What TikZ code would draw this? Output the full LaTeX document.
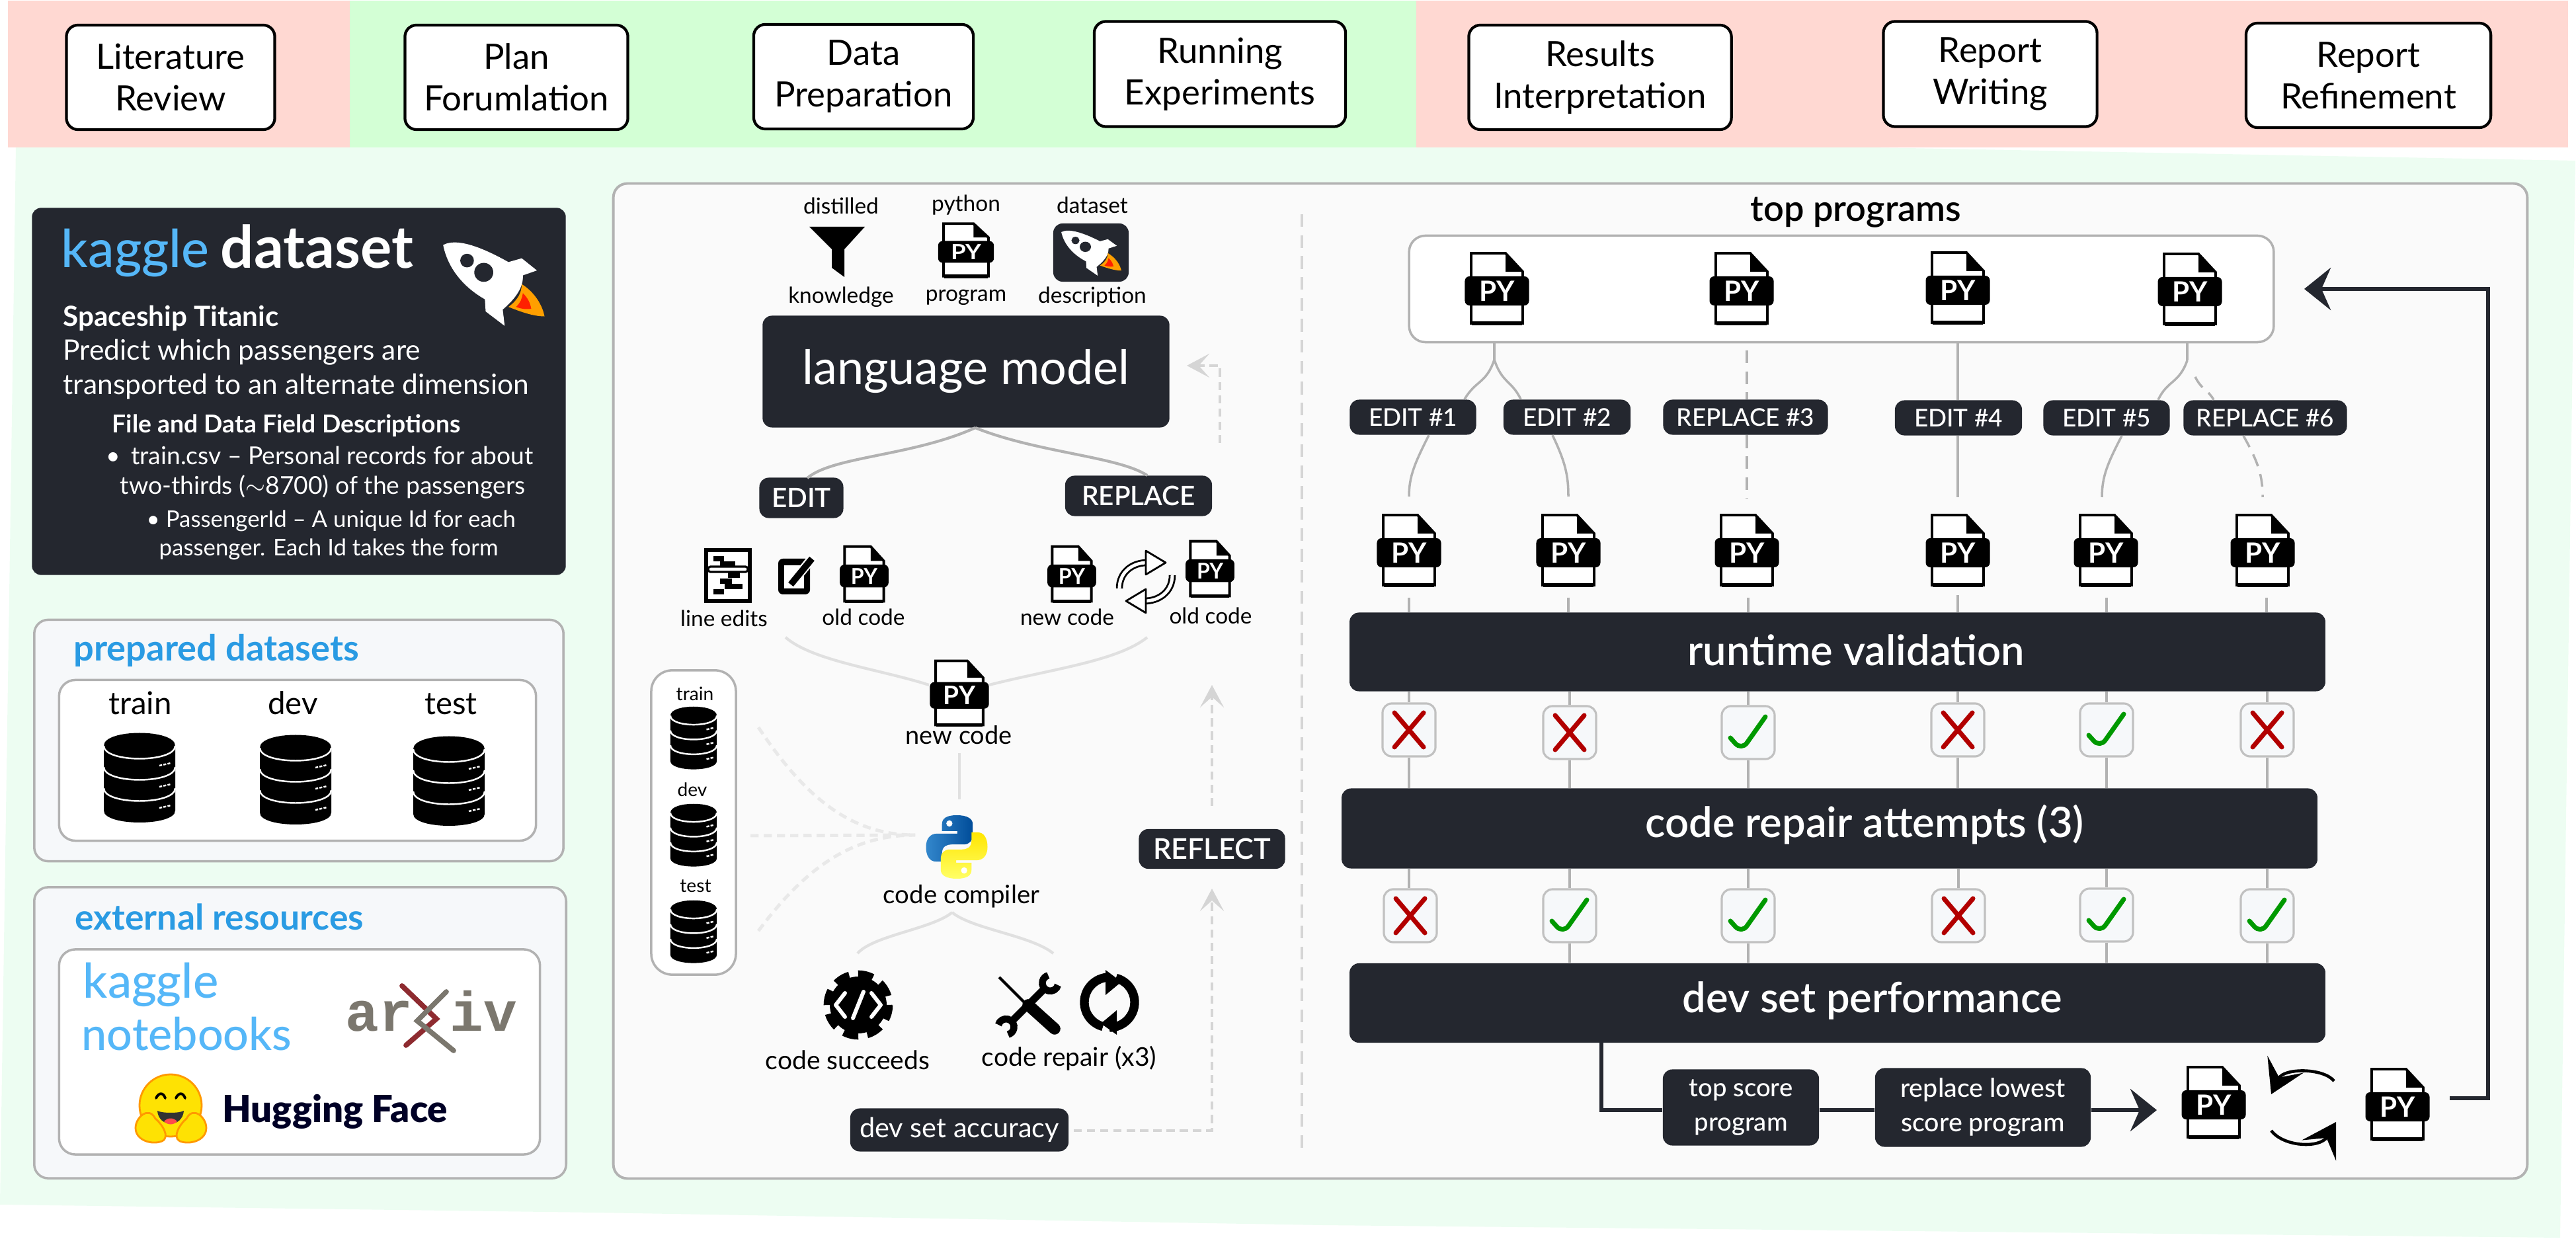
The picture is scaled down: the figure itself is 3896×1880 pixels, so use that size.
\documentclass[tikz,border=0pt]{standalone}
\usepackage{fontspec}
\setmainfont{Lato}
\newfontfamily\medfont{Lato Medium}
\newfontfamily\semifont{Lato Semibold}
\newfontfamily\heavyfont{Lato Black}
\newfontfamily\slabfont{Liberation Mono}
\usetikzlibrary{arrows.meta}
\definecolor{boxdark}{HTML}{24272F}
\definecolor{bandred}{HTML}{FFD8D2}
\definecolor{bandgreen}{HTML}{D3FFD5}
\definecolor{panelgreen}{HTML}{EDFDF2}
\definecolor{edgegray}{HTML}{B2B2B2}
\definecolor{softgray}{HTML}{E0E0E0}
\definecolor{paleblue}{HTML}{F6F8FA}
\definecolor{skyblue}{HTML}{55B7F8}
\definecolor{titleblue}{HTML}{2A9BE3}
\definecolor{arxgray}{HTML}{7B776E}
\definecolor{arxred}{HTML}{8E2B30}
\newcommand{\fs}[2]{\fontsize{#1}{#2}\selectfont}

\tikzset{
  pics/pyfile/.style = {code = {
    \draw[line width=1.1pt,fill=white] (-39,-53) -- (13,-53) -- (39,-25) -- (39,53) -- (-39,53) -- cycle;
    \fill (13,-53) -- (39,-25) -- (13,-25) -- cycle;
    \draw[line width=1.6pt] (-38,53) -- (38,53);
    \node[transform shape,fill=black,rounded corners=2pt,inner sep=0,minimum width=.97cm,minimum height=.44cm,
      text=white,font=\bfseries\fs{12}{12}] (-b) at (0,4) {PY};
    \coordinate (-n) at (0,-53);
    \coordinate (-s) at (0,53);
  }},
  pics/dbstack/.style = {code = {
    \fill (-54,-48) -- (-54,50) .. controls (-54,74) and (54,74) .. (54,50) -- (54,-48) .. controls (54,-74) and (-54,-74) .. (-54,-48) -- cycle;
    \draw[white,line width=.7pt] (-54,-48) .. controls (-54,-22) and (54,-22) .. (54,-48);
    \draw[white,line width=.7pt] (-54,-16) .. controls (-54,10) and (54,10) .. (54,-16);
    \draw[white,line width=.7pt] (-54,16) .. controls (-54,42) and (54,42) .. (54,16);
    \draw[white,line width=.7pt,dash pattern=on 1.2pt off .6pt] (30,-18) -- (48,-22);
    \draw[white,line width=.7pt,dash pattern=on 1.2pt off .6pt] (30,14) -- (48,10);
    \draw[white,line width=.7pt,dash pattern=on 1.2pt off .6pt] (30,46) -- (48,42);
  }},
  pics/rocket/.style = {code = {
    \fill[white] (-132,-100) .. controls (-100,-118) and (-40,-100) .. (40,-55) -- (75,-65) -- (115,-33)
      -- (78,-20) .. controls (80,10) and (60,40) .. (25,70) -- (30,113) -- (-20,75) -- (-22,43)
      .. controls (-80,10) and (-120,-40) .. (-132,-100) -- cycle;
    \fill[boxdark] (-69,-59) circle (18);
    \fill[boxdark] (-25,-28) circle (25);
    \fill[orange!75!yellow] (75,3) .. controls (110,25) and (130,60) .. (135,88) .. controls (105,88) and (70,75) .. (40,63) .. controls (65,45) and (75,25) .. (75,3) -- cycle;
    \fill[red!75!orange] (78,27) .. controls (92,40) and (98,55) .. (100,68) .. controls (85,70) and (72,68) .. (60,63) .. controls (72,52) and (76,40) .. (78,27) -- cycle;
  }},
  pics/pylogo/.style = {code = {
    \path[left color=blue!45!cyan!60!gray,right color=blue!50!cyan!60!black] (0,-50) .. controls (-18,-50) and (-24,-44) .. (-24,-36) -- (-24,-25) -- (1,-25) -- (1,-21) -- (-32,-21)
      .. controls (-44,-21) and (-50,-12) .. (-50,0) .. controls (-50,14) and (-44,23) .. (-34,23) -- (-24,23) -- (-24,10)
      .. controls (-24,-1) and (-16,-4) .. (-8,-4) -- (12,-4) .. controls (20,-4) and (26,-10) .. (26,-17) -- (26,-36) .. controls (26,-44) and (18,-50) .. (0,-50) -- cycle;
    \path[top color=yellow!80!orange,bottom color=yellow!60] (0,50) .. controls (18,50) and (24,44) .. (24,36) -- (24,25) -- (-1,25) -- (-1,21) -- (32,21)
      .. controls (44,21) and (50,12) .. (50,0) .. controls (50,-14) and (44,-23) .. (34,-23) -- (24,-23) -- (24,-10)
      .. controls (24,1) and (16,4) .. (8,4) -- (-12,4) .. controls (-20,4) and (-26,10) .. (-26,17) -- (-26,36) .. controls (-26,44) and (-18,50) .. (0,50) -- cycle;
    \fill[white] (-12,-37) circle (5);
    \fill[white] (12,37) circle (5);
  }},
  pics/swaphollow/.style = {code = {
    \draw[double,double distance=1.4pt,line width=.8pt] (-40,10) .. controls (-40,-15) and (-20,-29) .. (2,-29);
    \draw[double,double distance=1.4pt,line width=.8pt] (40,-10) .. controls (40,15) and (20,29) .. (-2,29);
    \filldraw[fill=white,line width=.8pt,line join=round] (0,-47) -- (30,-29) -- (0,-11) -- cycle;
    \filldraw[fill=white,line width=.8pt,line join=round] (0,47) -- (-30,29) -- (0,11) -- cycle;
  }},
  pics/refreshring/.style = {code = {
    \draw[line width=3.8pt] (0,-38) arc[start angle=270,end angle=105,radius=38];
    \draw[line width=3.8pt] (0,38) arc[start angle=90,end angle=-75,radius=38];
    \fill (-6,-49) -- (18,-31) -- (-6,-11) -- cycle;
    \fill (11,12) -- (-13,32) -- (11,49) -- cycle;
  }},
  pics/swapcurves/.style = {code = {
    \draw[line width=1.3pt,-{Stealth[length=5mm,width=6mm,inset=2.2mm]}] (46,-42) .. controls (30,-62) and (-30,-62) .. (-49,-22);
    \draw[line width=1.3pt,-{Stealth[length=5mm,width=6mm,inset=2.2mm]}] (-49,33) .. controls (-30,58) and (25,60) .. (49,20);
  }},
}

\begin{document}
\begin{tikzpicture}[x=.01cm,y=-.01cm,
    phase/.style   = {draw,line width=1.2pt,fill=white,rounded corners=5pt,inner sep=0,align=center,font=\fs{15}{17.9}},
    darkbox/.style = {fill=boxdark,rounded corners=4pt,inner sep=0,text=white,align=center},
    slab/.style    = {darkbox,anchor=base,font=\semifont\fs{18}{20}},
    tag/.style     = {darkbox,minimum height=.53cm,font=\medfont\fs{10.5}{12}},
    panel/.style   = {draw=edgegray,line width=1pt,fill=paleblue,rounded corners=6pt},
    inset/.style   = {draw=edgegray,line width=1pt,fill=white,rounded corners=7pt},
    lbl/.style     = {anchor=base,inner sep=0},
    lft/.style     = {anchor=base west,inner sep=0},
    chkbox/.style  = {draw=edgegray!80,line width=.9pt,fill=paleblue,rounded corners=4pt,minimum width=.8cm,minimum height=.8cm},
    failbox/.style = {chkbox,path picture={\draw[red!70!black,line width=2pt,line cap=round,shift={(path picture bounding box.center)}] (-22,-26) -- (22,26) (22,-26) -- (-22,26);}},
    passbox/.style = {chkbox,path picture={\draw[green!60!black,line width=2pt,line cap=round,line join=round,shift={(path picture bounding box.center)}] (-27,8) -- (-10,27) -- (26,-24);}},
    link/.style    = {draw=edgegray,line width=1pt},
    dlink/.style   = {link,dash pattern=on 5.5pt off 3.5pt},
    soft/.style    = {draw=softgray,line width=1.2pt},
    dsoft/.style   = {draw=softgray!95!black,line width=1.2pt,dash pattern=on 3.5pt off 2.2pt},
    dpale/.style   = {draw=softgray!70!white,line width=1.4pt,dash pattern=on 3.5pt off 2.2pt},
    softarrow/.style = {-{Stealth[length=3.4mm,width=3.6mm,inset=1.6mm]}},
    bold/.style    = {draw=boxdark,line width=1.9pt},
    boldarrow/.style = {-{Stealth[length=4mm,width=6.4mm,inset=1.4mm]}}]

  \useasboundingbox (0,0) rectangle (3896,1880);

  % background bands
  \fill[panelgreen] (24,223) -- (2830,223) -- (3895,243) -- (3872,1872) -- (2000,1853) -- (900,1834) -- (0,1822) -- (14,900) -- cycle;
  \fill[bandred] (12,1) rectangle (529,223);
  \fill[bandgreen] (529,1) rectangle (2142,223);
  \fill[bandred] (2142,1) rectangle (3884,223);

  % research phases
  \draw (258,117) node[phase,minimum width=3.15cm,minimum height=1.58cm] (lit) {Literature\\Review};
  \draw (781,117) node[phase,minimum width=3.37cm,minimum height=1.58cm] (plan) {Plan\\Forumlation};
  \draw (1306,116) node[phase,minimum width=3.32cm,minimum height=1.58cm] (prep) {Data\\Preparation};
  \draw (1845,112) node[phase,minimum width=3.8cm,minimum height=1.59cm] (runs) {Running\\Experiments};
  \draw (2420,117) node[phase,minimum width=3.97cm,minimum height=1.58cm] (interp) {Results\\Interpretation};
  \draw (3010,112) node[phase,minimum width=3.23cm,minimum height=1.59cm] (write) {Report\\Writing};
  \draw (3582,114) node[phase,minimum width=3.7cm,minimum height=1.58cm] (refine) {Report\\Refinement};

  % kaggle dataset card
  \draw (452,592) node[darkbox,minimum width=8.07cm,minimum height=5.55cm] (kag) {};
  \draw (92,405) node[lft,text=skyblue,font=\medfont\fs{22.5}{21}] (kagname) {kaggle};
  \draw (333,406) node[lft,text=white,font=\bfseries\fs{25.2}{23}] (kagset) {dataset};
  \draw (746,428) pic[scale=.574] (kagrocket) {rocket};
  \draw (95,494) node[lft,text=white,font=\bfseries\fs{12}{12}] (ttl) {Spaceship Titanic};
  \draw (95,545) node[lft,text=white,font=\fs{12.1}{14.7}] (goal) {Predict which passengers are};
  \draw (95,597) node[lft,text=white,font=\fs{12.1}{14.7}] (goalb) {transported to an alternate dimension};
  \draw (169,655) node[lft,text=white,font=\bfseries\fs{10.6}{12}] (fld) {File and Data Field Descriptions};
  \draw (160,703) node[lft,text=white,font=\fs{10.6}{12}] (fa) {• \,train.csv – Personal records for about};
  \draw (181,748) node[lft,text=white,font=\fs{10.6}{12}] (fb) {two-thirds ($\sim$8700) of the passengers};
  \draw (221,798) node[lft,text=white,font=\fs{9.9}{12}] (fc) {• PassengerId – A unique Id for each};
  \draw (240,841) node[lft,text=white,font=\fs{9.9}{12}] (fd) {passenger. Each Id takes the form};

  % prepared datasets
  \draw (452,1120) node[panel,minimum width=8cm,minimum height=3.65cm] (prepd) {};
  \draw (450,1150) node[inset,minimum width=7.21cm,minimum height=2.43cm] (prepin) {};
  \draw (111,1000) node[lft,text=titleblue,font=\bfseries\fs{15.4}{14.3}] (prepttl) {prepared datasets};
  \draw (212,1081) node[lbl,font=\fs{13.5}{12}] (ltrain) {train};
  \draw (443,1081) node[lbl,font=\fs{13.5}{12}] (ldev) {dev};
  \draw (682,1081) node[lbl,font=\fs{13.5}{12}] (ltest) {test};
  \draw (211,1176) pic (dbtrain) {dbstack};
  \draw (447,1179) pic (dbdev) {dbstack};
  \draw (679,1181) pic (dbtest) {dbstack};

  % external resources
  \draw (454,1562) node[panel,minimum width=8.04cm,minimum height=4.4cm] (extr) {};
  \draw (453,1591) node[inset,minimum width=7.27cm,minimum height=3.1cm] (extin) {};
  \draw (113,1407) node[lft,text=titleblue,font=\bfseries\fs{15.2}{14}] (extttl) {external resources};
  \draw (125,1509) node[lft,text=skyblue,font=\medfont\fs{20.6}{20}] (kagb) {kaggle};
  \draw (123,1589) node[lft,text=skyblue,font=\medfont\fs{19.4}{20}] (kagc) {notebooks};
  \draw (522,1559) node[lft,text=arxgray,font=\slabfont\bfseries\fs{24}{24}] (arxa) {ar};
  \draw (680,1559) node[lft,text=arxgray,font=\slabfont\bfseries\fs{24}{24}] (arxb) {iv};
  \draw[arxred,line width=2.2pt,line cap=round] (608,1491) -- (660,1541) -- (614,1581);
  \draw[arxgray,line width=2.2pt,line cap=round] (675,1500) -- (631,1544) -- (686,1589);
  % hugging face
  \filldraw[fill=yellow!85!orange,draw=orange!80!yellow,line width=.8pt] (258,1672) circle (47);
  \draw[line width=1.1pt,line cap=round] (236,1661) .. controls (240,1652) and (247,1652) .. (250,1661);
  \draw[line width=1.1pt,line cap=round] (266,1661) .. controls (270,1652) and (277,1652) .. (280,1661);
  \fill[black!80] (238,1680) .. controls (245,1684) and (271,1684) .. (278,1680) .. controls (276,1706) and (240,1706) .. (238,1680) -- cycle;
  \fill[red!70!white] (248,1696) .. controls (254,1690) and (262,1690) .. (268,1696) .. controls (262,1702) and (254,1702) .. (248,1696) -- cycle;
  \filldraw[fill=yellow!85!orange,draw=orange!80!yellow,line width=.8pt] (205,1706) .. controls (205,1690) and (225,1672) .. (235,1692) .. controls (245,1700) and (258,1720) .. (245,1726) .. controls (230,1732) and (205,1725) .. (205,1706) -- cycle;
  \filldraw[fill=yellow!85!orange,draw=orange!80!yellow,line width=.8pt] (312,1706) .. controls (312,1690) and (292,1672) .. (282,1692) .. controls (272,1700) and (260,1720) .. (272,1726) .. controls (287,1732) and (312,1725) .. (312,1706) -- cycle;
  \draw (336,1697) node[lft,text=black!85!blue,font=\heavyfont\fs{16}{16}] (hug) {Hugging Face};

  % main panel
  \draw (2375,1030) node[draw=edgegray,line width=1.1pt,fill=black!2,rounded corners=6pt,minimum width=28.93cm,minimum height=15.04cm] (mainp) {};
  \coordinate (divtop) at (1969,324);
  \coordinate (divbot) at (1969,1744);
  \draw[dsoft,dash pattern=on 5.5pt off 3.5pt] (divtop) -- (divbot);

  % prompt inputs
  \draw (1272,324) node[lbl,font=\fs{9.5}{10}] (ldist) {distilled};
  \draw (1461,320) node[lbl,font=\fs{9.5}{10}] (lpyth) {python};
  \draw (1652,323) node[lbl,font=\fs{9.5}{10}] (ldata) {dataset};
  \fill (1224,343) -- (1308,343) -- (1277,377) -- (1277,419) -- (1258,405) -- (1258,377) -- cycle;
  \draw (1461,378) pic[xscale=.87,yscale=.75] (pyin) {pyfile};
  \draw (1650,382) node[darkbox,minimum width=1.14cm,minimum height=.88cm] (dtile) {};
  \draw (1650,382) pic[xscale=.34,yscale=.31] (tilerocket) {rocket};
  \draw (1272,459) node[lbl,font=\fs{9.5}{10}] (lknow) {knowledge};
  \draw (1461,456) node[lbl,font=\fs{9.5}{10}] (lprog) {program};
  \draw (1652,459) node[lbl,font=\fs{9.5}{10}] (ldesc) {description};
  \draw (1461,562) node[darkbox,minimum width=6.15cm,minimum height=1.69cm,font=\fs{20.5}{22}] (lm) {language model};

  % edit or replace
  \draw (1212,753) node[darkbox,minimum width=1.27cm,minimum height=.61cm,font=\semifont\fs{11.5}{12}] (edit) {EDIT};
  \draw (1722,750) node[darkbox,minimum width=2.22cm,minimum height=.61cm,font=\semifont\fs{11.5}{12}] (repl) {REPLACE};
  \coordinate (lmtip) at (1475,647);
  \coordinate (edtop) at (1221,723);
  \coordinate (rptop) at (1735,719);
  \draw[link,line width=1.2pt] (lmtip) .. controls (1380,690) and (1260,690) .. (edtop);
  \draw[link,line width=1.2pt] (lmtip) .. controls (1570,685) and (1690,690) .. (rptop);
  \coordinate (loopa) at (1845,670);
  \coordinate (loopb) at (1795,553);
  \draw[dsoft,softarrow] (loopa) |- (loopb);

  \draw[line width=1.5pt,fill=white] (1068,832) rectangle (1134,909);
  \draw[line width=2pt] (1079,845) -- (1095,845) (1089,853) -- (1112,853) (1101,870) -- (1119,870) (1089,879) -- (1107,879) (1096,887) -- (1123,887) (1079,895) -- (1095,895);
  \draw[line width=.9pt,fill=white,rounded corners=1pt] (1071,857) rectangle (1131,865);
  \fill[rounded corners=2pt] (1177,845) rectangle (1225,899);
  \fill[white] (1186,855) rectangle (1216,890);
  \draw[white,line width=4pt] (1196,884) -- (1231,841);
  \draw[line width=2.8pt] (1196,884) -- (1228,845);
  \draw (1307,868) pic[xscale=.76,yscale=.78] (pyold) {pyfile};
  \draw (1095,948) node[lbl,font=\fs{9.5}{10}] (llin) {line edits};
  \draw (1306,946) node[lbl,font=\fs{9.5}{10}] (lold) {old code};
  \draw (1621,868) pic[xscale=.76,yscale=.78] (pynew) {pyfile};
  \draw (1733,880) pic (swapa) {swaphollow};
  \draw (1830,860) pic[xscale=.76,yscale=.78] (pyoldb) {pyfile};
  \draw (1614,946) node[lbl,font=\fs{9.5}{10}] (lnewa) {new code};
  \draw (1831,944) node[lbl,font=\fs{9.5}{10}] (loldb) {old code};

  % new code and compiler
  \draw (1451,1048) pic[xscale=.92,yscale=.915] (pymain) {pyfile};
  \draw (1450,1126) node[lbl,font=\fs{10.8}{11}] (lnewb) {new code};
  \coordinate (mergea) at (1188,964);
  \coordinate (mergeb) at (1735,964);
  \coordinate (mainl) at (1405,1036);
  \coordinate (mainr) at (1496,1036);
  \draw[soft] (mergea) .. controls (1230,1000) and (1330,1012) .. (mainl);
  \draw[soft] (mergeb) .. controls (1690,1000) and (1590,1012) .. (mainr);
  \coordinate (compa) at (1451,1139);
  \coordinate (compb) at (1451,1209);
  \draw[soft] (compa) -- (compb);
  \draw (1447,1281) pic[xscale=.93,yscale=.96] (pycomp) {pylogo};
  \draw (1454,1367) node[lbl,font=\fs{10.9}{11}] (lcomp) {code compiler};

  % splits
  \draw (1049,1244) node[inset,minimum width=1.28cm,minimum height=4.6cm,rounded corners=9pt] (splits) {};
  \draw (1051,1060) node[lbl,font=\fs{8}{8}] (stra) {train};
  \draw (1047,1205) node[lbl,font=\fs{8}{8}] (sdev) {dev};
  \draw (1052,1350) node[lbl,font=\fs{8}{8}] (stes) {test};
  \draw (1049,1116) pic[xscale=.65,yscale=.7] (sdba) {dbstack};
  \draw (1049,1263) pic[xscale=.65,yscale=.7] (sdbb) {dbstack};
  \draw (1049,1409) pic[xscale=.65,yscale=.7] (sdbc) {dbstack};
  \coordinate (spa) at (1147,1100);
  \coordinate (spb) at (1135,1264);
  \coordinate (spc) at (1147,1408);
  \coordinate (spin) at (1384,1263);
  \draw[dpale] (spa) .. controls (1220,1210) and (1290,1263) .. (spin);
  \draw[dpale] (spb) -- (spin);
  \draw[dpale] (spc) .. controls (1220,1310) and (1290,1263) .. (spin);

  % compile result
  \coordinate (cmptip) at (1440,1380);
  \coordinate (okay) at (1297,1442);
  \coordinate (fixd) at (1593,1442);
  \draw[soft] (cmptip) .. controls (1410,1405) and (1320,1415) .. (okay);
  \draw[soft] (cmptip) .. controls (1470,1405) and (1560,1415) .. (fixd);
  % gear
  \fill (1298,1520) circle (43);
  \draw[line width=3.6pt,dash pattern=on 6.4pt off 3.87pt] (1298,1520) circle (46);
  \draw[white,line width=1.7pt,line cap=round,line join=round] (1278,1502) -- (1264,1520) -- (1278,1538);
  \draw[white,line width=1.7pt,line cap=round,line join=round] (1318,1502) -- (1332,1520) -- (1318,1538);
  \draw[white,line width=1.7pt,line cap=round] (1306,1500) -- (1290,1540);
  \draw (1282,1617) node[lbl,font=\fs{11.1}{11}] (lsuc) {code succeeds};
  % tools
  \draw[line width=1.2pt] (1511,1478) -- (1555,1522);
  \draw[line width=5pt,line cap=round] (1555,1520) -- (1595,1556);
  \draw[line width=3.2pt] (1530,1545) -- (1580,1495);
  \draw[line width=3pt] (1600,1490) arc[start angle=15,end angle=255,radius=12];
  \draw[line width=3pt] (1510,1550) arc[start angle=195,end angle=435,radius=12];
  % refresh
  \draw (1678,1516) pic (refr) {refreshring};
  \draw (1617,1612) node[lbl,font=\fs{11.1}{11}] (lrep) {code repair (x3)};

  % reflect loop
  \draw (1451,1709) node[darkbox,minimum width=3.3cm,minimum height=.65cm,font=\fs{11.8}{12}] (dacc) {dev set accuracy};
  \draw (1833,1284) node[darkbox,minimum width=2.21cm,minimum height=.6cm,font=\semifont\fs{12.3}{13}] (refl) {REFLECT};
  \coordinate (accend) at (1624,1710);
  \coordinate (reflin) at (1833,1344);
  \coordinate (reflout) at (1833,1219);
  \coordinate (reflup) at (1833,1036);
  \draw[dsoft,softarrow] (accend) -| (reflin);
  \draw[dsoft,softarrow] (reflout) -- (reflup);

  % population of programs
  \draw (2807,335) node[lbl,font=\semifont\fs{15.4}{14}] (ltop) {top programs};
  \draw (2785,437) node[inset,minimum width=13.07cm,minimum height=1.61cm] (topb) {};
  \draw (2264,436) pic (tp1) {pyfile};
  \draw (2634,436) pic (tp2) {pyfile};
  \draw (2961,435) pic (tp3) {pyfile};
  \draw (3312,437) pic (tp4) {pyfile};

  \draw (2137,631) node[tag,minimum width=1.91cm] (ed1) {EDIT \#1};
  \draw (2370,631) node[tag,minimum width=1.92cm] (ed2) {EDIT \#2};
  \draw (2640,631) node[tag,minimum width=2.49cm] (rp3) {REPLACE \#3};
  \draw (2962,632) node[tag,minimum width=1.92cm] (ed4) {EDIT \#4};
  \draw (3186,632) node[tag,minimum width=1.91cm] (ed5) {EDIT \#5};
  \draw (3426,632) node[tag,minimum width=2.47cm] (rp6) {REPLACE \#6};

  \draw (2131,832) pic (c1) {pyfile};
  \draw (2372,832) pic (c2) {pyfile};
  \draw (2642,832) pic (c3) {pyfile};
  \draw (2961,832) pic (c4) {pyfile};
  \draw (3185,832) pic (c5) {pyfile};
  \draw (3422,832) pic (c6) {pyfile};

  \coordinate (fka) at (2260,544);
  \coordinate (fkb) at (3308,545);
  \draw[link] (fka |- topb.south) -- (fka);
  \draw[link] (fka) .. controls (2248,580) and (2232,575) .. (ed1.north -| 2215,0);
  \draw[link] (fka) .. controls (2272,580) and (2286,575) .. (ed2.north -| 2300,0);
  \draw[dlink] (2642,530) -- (rp3.north -| 2642,0);
  \draw[link] (tp3-s |- topb.south) -- (tp3-s |- ed4.north);
  \draw[link] (fkb |- topb.south) -- (fkb);
  \draw[link] (fkb) .. controls (3296,580) and (3278,575) .. (ed5.north -| 3264,0);
  \draw[dlink] (3320,570) .. controls (3330,590) and (3340,590) .. (rp6.north -| 3348,0);

  \coordinate (ga) at (2131,751);
  \coordinate (gb) at (2372,751);
  \coordinate (gc) at (2642,754);
  \coordinate (gd) at (2961,752);
  \coordinate (ge) at (3179,752);
  \coordinate (gf) at (3422,752);
  \draw[link] (ed1.south -| 2161,0) .. controls (2140,700) and (2131,720) .. (ga);
  \draw[link] (ed2.south -| 2348,0) .. controls (2368,700) and (2372,720) .. (gb);
  \draw[dlink] (gc |- rp3.south) -- (gc);
  \draw[link] (gd |- ed4.south) -- (gd);
  \draw[link] (ed5.south -| 3209,0) .. controls (3188,700) and (3179,720) .. (ge);
  \draw[dlink] (rp6.south -| 3393,0) .. controls (3416,700) and (3422,720) .. (gf);

  % validation stages
  \draw (2779,986) node[darkbox,minimum width=14.75cm,minimum height=1.19cm] (rv) {};
  \draw (2767,1253) node[darkbox,minimum width=14.75cm,minimum height=1.21cm] (cr) {};
  \draw (2779,1517) node[darkbox,minimum width=14.75cm,minimum height=1.2cm] (dp) {};
  \draw (2807,1007) node[slab] (rvtext) {runtime validation};
  \draw (2820,1267) node[slab] (crtext) {code repair attempts (3)};
  \draw (2832,1531) node[slab] (dptext) {dev set performance};

  \draw (2131,1104) node[failbox] (a1) {};
  \draw (2374,1108) node[failbox] (a2) {};
  \draw (2644,1108) node[passbox] (a3) {};
  \draw (2961,1104) node[failbox] (a4) {};
  \draw (3186,1104) node[passbox] (a5) {};
  \draw (3429,1104) node[failbox] (a6) {};
  \draw (2133,1385) node[failbox] (b1) {};
  \draw (2374,1385) node[passbox] (b2) {};
  \draw (2644,1385) node[passbox] (b3) {};
  \draw (2962,1385) node[failbox] (b4) {};
  \draw (3186,1384) node[passbox] (b5) {};
  \draw (3429,1385) node[passbox] (b6) {};

  \coordinate (h1) at (2131,904);
  \coordinate (h2) at (2372,904);
  \coordinate (h3) at (2644,904);
  \coordinate (h4) at (2961,900);
  \coordinate (h5) at (3186,904);
  \coordinate (h6) at (3428,904);
  \draw[link] (h1) -- (h1 |- rv.north);
  \draw[link] (h2) -- (h2 |- rv.north);
  \draw[link] (h3) -- (h3 |- rv.north);
  \draw[link] (h4) -- (h4 |- rv.north);
  \draw[link] (h5) -- (h5 |- rv.north);
  \draw[link] (h6) -- (h6 |- rv.north);
  \draw[link] (a1 |- rv.south) -- (a1.north);
  \draw[link] (a2 |- rv.south) -- (a2.north);
  \draw[link] (a3 |- rv.south) -- (a3.north);
  \draw[link] (a4 |- rv.south) -- (a4.north);
  \draw[link] (a5 |- rv.south) -- (a5.north);
  \draw[link] (a6 |- rv.south) -- (a6.north);
  \draw[link] (a1.south) -- (a1 |- cr.north);
  \draw[link] (a2.south) -- (a2 |- cr.north);
  \draw[link] (a3.south) -- (a3 |- cr.north);
  \draw[link] (a4.south) -- (a4 |- cr.north);
  \draw[link] (a5.south) -- (a5 |- cr.north);
  \draw[link] (a6.south) -- (a6 |- cr.north);
  \draw[link] (h1 |- cr.south) -- (h1 |- b1.north);
  \draw[link] (b2 |- cr.south) -- (b2.north);
  \draw[link] (b3 |- cr.south) -- (b3.north);
  \draw[link] (b4 |- cr.south) -- (b4.north);
  \draw[link] (b5 |- cr.south) -- (b5.north);
  \draw[link] (b6 |- cr.south) -- (b6.north);
  \draw[link] (b2.south) -- (b2 |- dp.north);
  \draw[link] (b3.south) -- (b3 |- dp.north);
  \draw[link] (b5.south) -- (b5 |- dp.north);
  \draw[link] (b6.south) -- (b6 |- dp.north);

  % selection and feedback
  \draw (2633,1675) node[darkbox,minimum width=2.36cm,minimum height=1.15cm,font=\medfont\fs{10.9}{14.8}] (tops) {top score\\program};
  \draw (2999,1675) node[darkbox,minimum width=3.26cm,minimum height=1.19cm,font=\medfont\fs{11.2}{14.8}] (lows) {replace lowest\\score program};
  \draw (3348,1667) pic (sw1) {pyfile};
  \draw (3626,1670) pic (sw2) {pyfile};
  \draw (3484,1677) pic (swc) {swapcurves};
  \coordinate (dpfoot) at (2422,1577);
  \coordinate (sink) at (3262,1679);
  \coordinate (backa) at (3705,1661);
  \coordinate (backb) at (3763,437);
  \coordinate (backc) at (3485,437);
  \draw[bold] (dpfoot) |- (tops.west |- sink);
  \draw[bold] (tops.east |- sink) -- (lows.west |- sink);
  \draw[bold,boldarrow] (lows.east |- sink) -- (sink);
  \draw[bold,boldarrow] (backa) -| (backb) -- (backc);

\end{tikzpicture}
\end{document}
